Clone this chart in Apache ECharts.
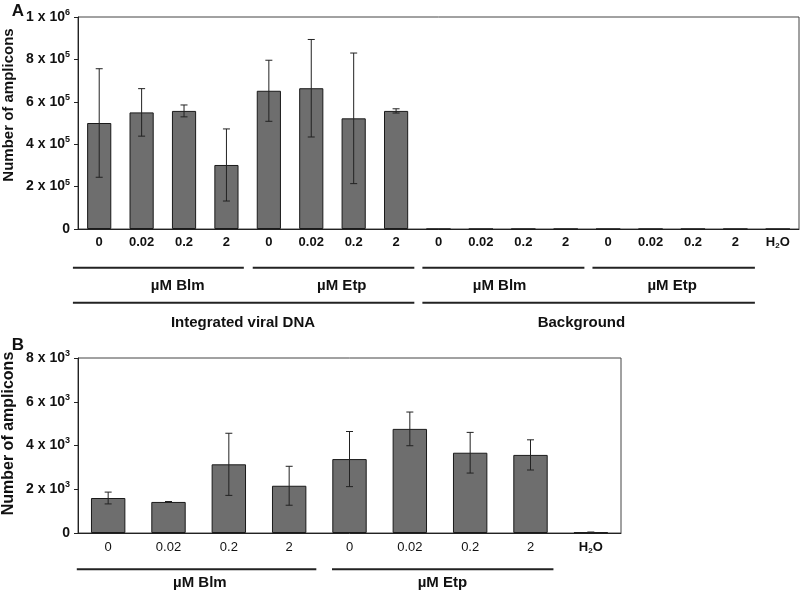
<!DOCTYPE html>
<html><head><meta charset="utf-8">
<script src="https://cdn.jsdelivr.net/npm/echarts@6/dist/echarts.min.js"></script>
<style>html,body{margin:0;padding:0;background:#fff}#c{width:800px;height:592px}</style>
</head><body><div id="c"></div>
<script>
// ---------- data ----------
const categoriesA = ['0','0.02','0.2','2','0','0.02','0.2','2','0','0.02','0.2','2','0','0.02','0.2','2','H2O'];
const valuesA = [500000,550000,557000,302000,652000,664000,522000,557000,0,0,0,0,0,0,0,0,0];
const errorsA = [256000,112000,28000,170000,144000,230000,308000,10000,0,0,0,0,0,0,0,0,0];
const categoriesB = ['0','0.02','0.2','2','0','0.02','0.2','2','H2O'];
const valuesB = [1600,1420,3140,2160,3380,4760,3670,3570,30];
const errorsB = [270,20,1420,890,1260,770,930,690,15];
const groupLabelsA1 = ['µM Blm','µM Etp','µM Blm','µM Etp'];
const groupLabelsA2 = ['Integrated viral DNA','Background'];
const groupLabelsB = ['µM Blm','µM Etp'];
const axisTitle = 'Number of amplicons';

// ---------- layout (category units) ----------
const spansA1 = [[-0.12,3.91],[4.12,7.93],[8.12,11.94],[12.13,15.96]];
const labelPosA1 = [2.35,6.22,9.94,14.01];
const spansA2 = [[-0.12,7.93],[8.12,15.96]];
const labelPosA2 = [3.89,11.87];
const spansB = [[-0.02,3.95],[4.21,7.88]];
const labelPosB = [2.02,6.04];

const FONT = '"Liberation Sans", Arial, Helvetica, sans-serif';
const chart = echarts.init(document.getElementById('c'), null, {renderer:'canvas'});

function sciLabel(v){
  if (v === 0) return '{m|0}';
  const e = Math.floor(Math.log10(v) + 1e-9);
  const m = Math.round(v / Math.pow(10, e));
  return '{m|' + m + ' x 10}{e|' + e + '}';
}
const yRich = {
  m:{fontFamily:FONT,fontWeight:'bold',fontSize:14,color:'#111',lineHeight:18},
  e:{fontFamily:FONT,fontWeight:'bold',fontSize:9,color:'#111',lineHeight:10,verticalAlign:'top'}
};
function catFmt(bold){
  return function(v){
    if (v === 'H2O') return '{hb|H}{hs|2}{hb|O}';
    return (bold ? '{b|' : '{n|') + v + '}';
  };
}
const xRich = {
  b:{fontFamily:FONT,fontWeight:'bold',fontSize:13,color:'#111',lineHeight:16},
  n:{fontFamily:FONT,fontWeight:'normal',fontSize:13,color:'#111',lineHeight:16},
  hb:{fontFamily:FONT,fontWeight:'bold',fontSize:13,color:'#111',lineHeight:16},
  hs:{fontFamily:FONT,fontWeight:'bold',fontSize:8,color:'#111',lineHeight:9,verticalAlign:'bottom'}
};

function errRender(params, api){
  const x = api.value(0), y = api.value(1), e = api.value(2);
  if (!(e > 0)) return null;
  const hi = api.coord([x, y + e]);
  const lo = api.coord([x, y - e]);
  const w = 3.5;
  const st = {stroke:'#222', lineWidth:1};
  return {type:'group', children:[
    {type:'line', shape:{x1:hi[0],y1:hi[1],x2:lo[0],y2:lo[1]}, style:st},
    {type:'line', shape:{x1:hi[0]-w,y1:hi[1],x2:hi[0]+w,y2:hi[1]}, style:st},
    {type:'line', shape:{x1:lo[0]-w,y1:lo[1],x2:lo[0]+w,y2:lo[1]}, style:st}
  ]};
}

const axisLineStyle = {color:'#222', width:1};
const option = {
  animation:false,
  backgroundColor:'#fff',
  grid:[
    {left:78, top:17, width:721, height:212, show:true, borderColor:'#444', borderWidth:1, backgroundColor:'#fff'},
    {left:78, top:358, width:543, height:175, show:true, borderColor:'#444', borderWidth:1, backgroundColor:'#fff'}
  ],
  xAxis:[
    {type:'category', gridIndex:0, data:categoriesA,
     axisLine:{lineStyle:axisLineStyle}, axisTick:{length:4, lineStyle:{color:'#222'}},
     axisLabel:{margin:5, interval:0, formatter:catFmt(true), rich:xRich}},
    {type:'category', gridIndex:1, data:categoriesB,
     axisLine:{lineStyle:axisLineStyle}, axisTick:{length:4, lineStyle:{color:'#222'}},
     axisLabel:{margin:6, interval:0, formatter:catFmt(false), rich:xRich}}
  ],
  yAxis:[
    {type:'value', gridIndex:0, min:0, max:1000000, interval:200000,
     splitLine:{show:false}, axisLine:{show:true, lineStyle:axisLineStyle},
     axisTick:{show:true, length:4, lineStyle:{color:'#222'}},
     axisLabel:{margin:8, formatter:sciLabel, rich:yRich}},
    {type:'value', gridIndex:1, min:0, max:8000, interval:2000,
     splitLine:{show:false}, axisLine:{show:true, lineStyle:axisLineStyle},
     axisTick:{show:true, length:4, lineStyle:{color:'#222'}},
     axisLabel:{margin:8, formatter:sciLabel, rich:yRich}}
  ],
  series:[
    {type:'bar', xAxisIndex:0, yAxisIndex:0, data:valuesA, barWidth:'57%',
     itemStyle:{color:'#6e6e6e', borderColor:'#1a1a1a', borderWidth:1}},
    {type:'custom', xAxisIndex:0, yAxisIndex:0, renderItem:errRender, z:5,
     encode:{x:0,y:1}, data:valuesA.map((v,i)=>[i, v, errorsA[i]])},
    {type:'bar', xAxisIndex:1, yAxisIndex:1, data:valuesB, barWidth:'57%',
     itemStyle:{color:'#6e6e6e', borderColor:'#1a1a1a', borderWidth:1}},
    {type:'custom', xAxisIndex:1, yAxisIndex:1, renderItem:errRender, z:5,
     encode:{x:0,y:1}, data:valuesB.map((v,i)=>[i, v, errorsB[i]])}
  ]
};
chart.setOption(option);

// ---------- annotations built from the axes ----------
function axisInfo(xi, yi){
  const c0 = chart.convertToPixel({xAxisIndex:xi}, 0);
  const c1 = chart.convertToPixel({xAxisIndex:xi}, 1);
  const band = c1 - c0;
  const x0 = c0 - band/2;
  const bottom = chart.convertToPixel({yAxisIndex:yi}, 0);
  const top = chart.convertToPixel({yAxisIndex:yi}, yi === 0 ? 1000000 : 8000);
  return {u:(t)=>x0 + t*band, bottom, top};
}
const A = axisInfo(0,0), B = axisInfo(1,1);
const g = [];
function hline(info, span, y){
  g.push({type:'line', shape:{x1:info.u(span[0]), y1:y, x2:info.u(span[1]), y2:y},
          style:{stroke:'#222', lineWidth:2}, silent:true});
}
function label(x, y, text){
  g.push({type:'text', x:x, y:y, style:{text:text, font:'bold 15px ' + FONT, fill:'#111',
          textAlign:'center', textVerticalAlign:'middle'}, silent:true});
}
spansA1.forEach(s=>hline(A, s, A.bottom + 38.7));
groupLabelsA1.forEach((t,i)=>label(A.u(labelPosA1[i]), A.bottom + 57, t));
spansA2.forEach(s=>hline(A, s, A.bottom + 73.7));
groupLabelsA2.forEach((t,i)=>label(A.u(labelPosA2[i]), A.bottom + 93.7, t));
spansB.forEach(s=>hline(B, s, B.bottom + 36.3));
groupLabelsB.forEach((t,i)=>label(B.u(labelPosB[i]), B.bottom + 50, t));

g.push({type:'text', x:9, y:(A.top + A.bottom)/2 - 18, rotation:Math.PI/2,
        style:{text:axisTitle, font:'bold 15px ' + FONT, fill:'#111', textAlign:'center', textVerticalAlign:'middle'}, silent:true});
g.push({type:'text', x:9, y:(B.top + B.bottom)/2 - 12, rotation:Math.PI/2,
        style:{text:axisTitle, font:'bold 16px ' + FONT, fill:'#111', textAlign:'center', textVerticalAlign:'middle'}, silent:true});
g.push({type:'text', x:18, y:11, style:{text:'A', font:'bold 17px ' + FONT, fill:'#111', textAlign:'center', textVerticalAlign:'middle'}});
g.push({type:'text', x:18, y:345, style:{text:'B', font:'bold 17px ' + FONT, fill:'#111', textAlign:'center', textVerticalAlign:'middle'}});
chart.setOption({graphic:g});
</script>
</body></html>
